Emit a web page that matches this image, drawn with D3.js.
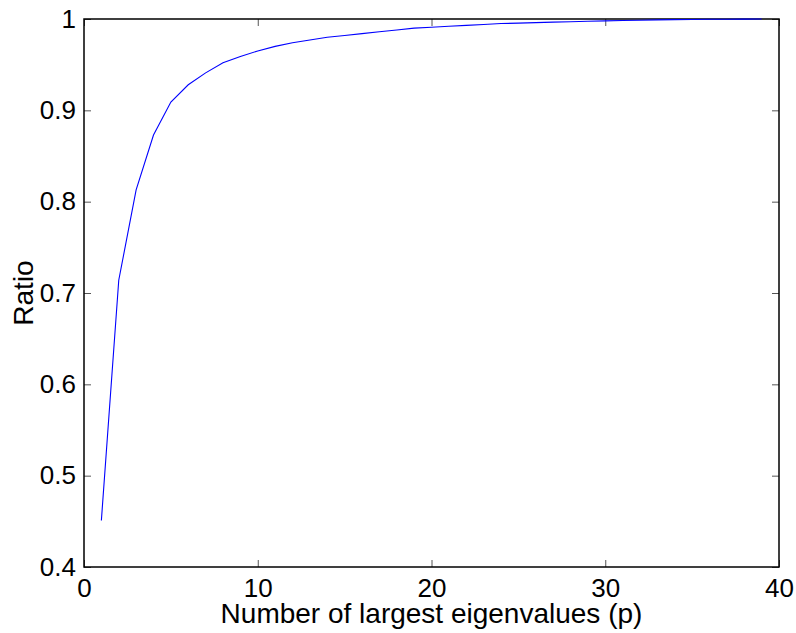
<!DOCTYPE html>
<html>
<head>
<meta charset="utf-8">
<script src="https://cdn.jsdelivr.net/npm/d3@7"></script>
<style>
  body { margin: 0; background: #fff; }
  svg text { font-family: "Liberation Sans", Arial, sans-serif; fill: #000; }
</style>
</head>
<body>
<svg width="796" height="633"></svg>
<script>
// number of eigenvalues kept
var p = d3.range(1, 40);
// cumulative ratio
var ratio = [0.451, 0.714, 0.813, 0.873, 0.909, 0.928, 0.941, 0.952, 0.959, 0.965,
             0.970, 0.974, 0.977, 0.980, 0.982, 0.984, 0.986, 0.988, 0.990, 0.991,
             0.992, 0.993, 0.994, 0.995, 0.9955, 0.996, 0.9966, 0.997, 0.9975, 0.998,
             0.9984, 0.9987, 0.999, 0.9993, 0.9995, 0.9997, 0.9998, 0.9999, 1.0];
var xTicks = [0, 10, 20, 30, 40];
var yTicks = [0.4, 0.5, 0.6, 0.7, 0.8, 0.9, 1];

// plot box (don't call it "top", that's window.top)
var mLeft = 84, mRight = 779, mTop = 19, mBottom = 567;

var svg = d3.select("svg");

var x = d3.scaleLinear().domain([0, 40]).range([mLeft, mRight]);
var y = d3.scaleLinear().domain([0.4, 1]).range([mBottom, mTop]);

// inward ticks, all four sides like matlab
var tickLen = 7;
function addAxis(axis, tx, ty, labels) {
  var g = svg.append("g")
    .attr("transform", "translate(" + tx + "," + ty + ")")
    .call(axis);
  g.select(".domain").remove();
  g.selectAll(".tick line").attr("stroke", "#555").attr("stroke-width", 1);
  if (!labels) g.selectAll(".tick text").remove();
  else g.selectAll(".tick text").style("font-size", "26px").attr("fill", "#000");
  return g;
}

addAxis(d3.axisBottom(x).tickValues(xTicks).tickSize(-tickLen).tickPadding(12)
  .tickFormat(d3.format("d")), 0, mBottom, true);
addAxis(d3.axisTop(x).tickValues(xTicks).tickSize(-tickLen), 0, mTop, false);
addAxis(d3.axisLeft(y).tickValues(yTicks).tickSize(-tickLen).tickPadding(8)
  .tickFormat(function(d) { return d === 1 ? "1" : d3.format(".1f")(d); }), mLeft, 0, true);
addAxis(d3.axisRight(y).tickValues(yTicks).tickSize(-tickLen), mRight, 0, false);

// box
svg.append("rect")
  .attr("x", mLeft).attr("y", mTop)
  .attr("width", mRight - mLeft).attr("height", mBottom - mTop)
  .attr("fill", "none").attr("stroke", "#000").attr("stroke-width", 1.5);

var line = d3.line()
  .x(function(d, i) { return x(p[i]); })
  .y(function(d) { return y(d); });

svg.append("path")
  .datum(ratio)
  .attr("d", line)
  .attr("fill", "none")
  .attr("stroke", "#0000ff")
  .attr("stroke-width", 1.1);

svg.append("text")
  .attr("x", (mLeft + mRight) / 2).attr("y", 623)
  .attr("text-anchor", "middle")
  .style("font-size", "28px")
  .text("Number of largest eigenvalues (p)");

svg.append("text")
  .attr("transform", "translate(33," + (mTop + mBottom) / 2 + ") rotate(-90)")
  .attr("text-anchor", "middle")
  .style("font-size", "28px")
  .text("Ratio");
</script>
</body>
</html>
